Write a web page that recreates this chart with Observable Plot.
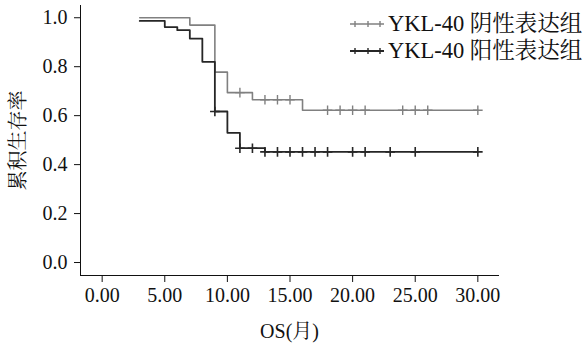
<!DOCTYPE html>
<html>
<head>
<meta charset="utf-8">
<script src="https://cdn.jsdelivr.net/npm/d3@7"></script>
<script src="https://cdn.jsdelivr.net/npm/@observablehq/plot@0.6"></script>
<style>
  html, body { margin: 0; padding: 0; background: #fff; }
  #wrap { position: relative; width: 587px; height: 343px; font-family: 'Liberation Serif', 'Noto Serif CJK SC'; }
  .lg { position: absolute; left: 349px; display: flex; align-items: center; height: 22px;
        font-family: 'Liberation Serif', 'Noto Serif CJK SC'; font-size: 22.5px; color: #111; line-height: 1; white-space: nowrap; }
  .lg svg { margin-right: 3px; }
  #wrap svg text { font-family: 'Liberation Serif', 'Noto Serif CJK SC' !important; }
</style>
</head>
<body>
<div id="wrap"></div>
<script>
// Series names
const seriesNames = ["YKL-40 阴性表达组", "YKL-40 阳性表达组"];
const seriesColors = ["#808080", "#262626"];
// Negative-expression group (gray): step times and survival
const negTimes = [3, 7, 9, 10, 12, 16, 30];
const negSurv  = [1.0, 0.97, 0.778, 0.694, 0.665, 0.622, 0.622];
const negCensor = [11, 13, 14, 15, 18, 19, 20, 21, 24, 25, 26, 30];
// Positive-expression group (black)
const posTimes = [3, 5, 6, 7, 8, 9, 10, 11, 13, 30];
const posSurv  = [0.987, 0.962, 0.949, 0.915, 0.82, 0.617, 0.53, 0.467, 0.452, 0.452];
const posCensor = [9, 11, 12, 13, 14, 15, 16, 17, 18, 20, 21, 23, 25, 30];
// Axis ticks
const xTicks = [0, 5, 10, 15, 20, 25, 30];
const yTicks = [0, 0.2, 0.4, 0.6, 0.8, 1.0];

function steps(times, surv, name) { return times.map((t, i) => ({t, s: surv[i], g: name})); }
function censors(times, surv, cens, name) {
  return cens.map(c => {
    let s = surv[0];
    for (let i = 0; i < times.length; i++) if (times[i] <= c) s = surv[i];
    return {t: c, s, g: name};
  });
}
const negLine = steps(negTimes, negSurv, seriesNames[0]);
const posLine = steps(posTimes, posSurv, seriesNames[1]);
const negMarks = censors(negTimes, negSurv, negCensor, seriesNames[0]);
const posMarks = censors(posTimes, posSurv, posCensor, seriesNames[1]);

const font = "'Liberation Serif', 'Noto Serif CJK SC'";

const chart = Plot.plot({
  width: 587, height: 343,
  marginLeft: 80, marginRight: 89, marginTop: 5, marginBottom: 68,
  style: {fontFamily: font, fontSize: "20px", color: "#111", background: "transparent"},
  x: {domain: [-1.73, 31.65], ticks: xTicks, tickFormat: d3.format(".2f"), line: true,
      tickSize: 7, tickPadding: 5, label: "OS(月)", labelAnchor: "center", labelOffset: 62},
  y: {domain: [-0.053, 1.05], ticks: yTicks, tickFormat: d3.format(".1f"), line: true,
      tickSize: 6, tickPadding: 7, label: "累积生存率", labelAnchor: "center", labelOffset: 70},
  color: {domain: seriesNames, range: seriesColors},
  marks: [
    Plot.line(negLine, {x: "t", y: "s", stroke: "g", curve: "step-after", strokeWidth: 1.6}),
    Plot.line(posLine, {x: "t", y: "s", stroke: "g", curve: "step-after", strokeWidth: 1.8}),
    Plot.dot(negMarks, {x: "t", y: "s", stroke: "g", symbol: "plus", r: 3.2, strokeWidth: 1.4}),
    Plot.dot(posMarks, {x: "t", y: "s", stroke: "g", symbol: "plus", r: 3.2, strokeWidth: 1.6})
  ]
});
d3.select(chart).attr("font-family", font);
d3.select(chart).selectAll("g").attr("font-family", null);
d3.select(chart).selectAll("text").attr("font-family", font).each(function() {
  const t = this.textContent;
  if (/[→↑←↓]/.test(t)) this.textContent = t.replace(/\s*[→↑←↓]\s*/g, "").trim();
});
d3.select(chart).selectAll("[aria-label$='axis'] path, [aria-label$='axis'] line").attr("stroke-width", 2);
const wrap = document.getElementById("wrap");
wrap.appendChild(chart);

// Legend
const tops = [13, 40];
seriesNames.forEach((name, i) => {
  const div = document.createElement("div");
  div.className = "lg";
  div.style.top = tops[i] + "px";
  const sw = d3.create("svg").attr("width", 36).attr("height", 22);
  sw.append("line").attr("x1", 1).attr("x2", 35).attr("y1", 11).attr("y2", 11)
    .attr("stroke", seriesColors[i]).attr("stroke-width", i ? 1.8 : 1.6);
  [6, 19, 31].forEach(px => {
    sw.append("line").attr("x1", px).attr("x2", px).attr("y1", 8).attr("y2", 14)
      .attr("stroke", seriesColors[i]).attr("stroke-width", 1.4);
  });
  div.appendChild(sw.node());
  const span = document.createElement("span");
  span.textContent = name;
  div.appendChild(span);
  wrap.appendChild(div);
});
</script>
</body>
</html>
